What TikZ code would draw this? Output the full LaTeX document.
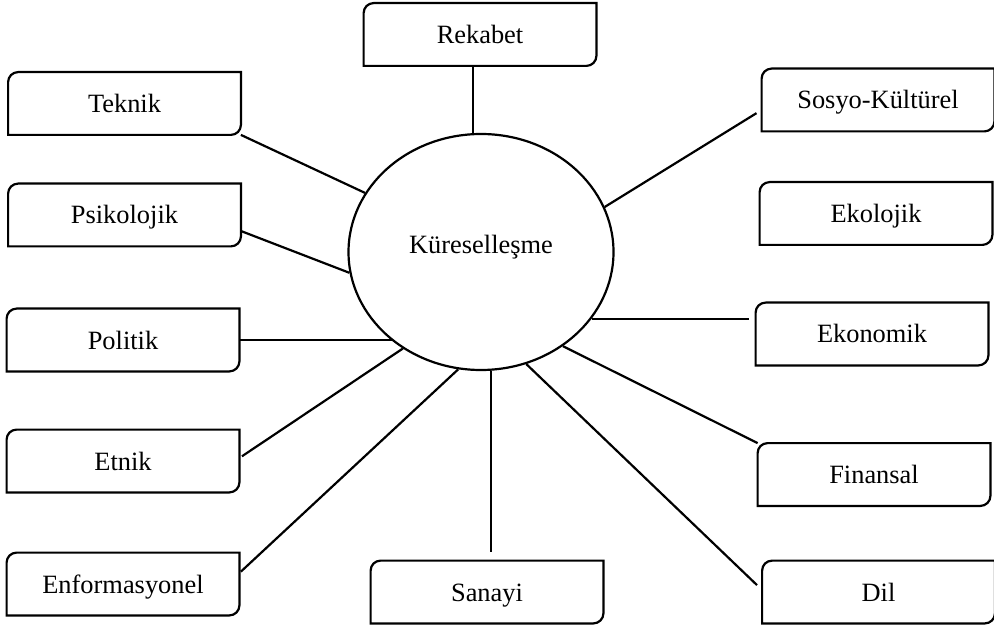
\documentclass[tikz,border=0pt]{standalone}
\usepackage{fontspec}
\setmainfont{Liberation Serif}
\usetikzlibrary{shapes.geometric}
\begin{document}
\begin{tikzpicture}[x=0.5pt,y=-0.5pt,
        kutu/.style={minimum width=116pt,minimum height=31pt,inner sep=0pt,text height=11pt,text depth=2pt,font=\fontsize{13.2}{15}\selectfont},
        merkez/.style={ellipse,draw,line width=1.1pt,minimum width=132.5pt,minimum height=118pt,inner sep=0pt,text height=7pt,text depth=5pt,font=\fontsize{13.2}{15}\selectfont},
        cizgi/.style={line width=1.1pt}]
        \useasboundingbox (0,0) rectangle (994,625);

        \node[merkez] (kure) at (481,252) {Küreselleşme};
        \node[kutu] (rekabet) at (480,34.5) {Rekabet};
        \node[kutu] (teknik) at (124.5,103.5) {Teknik};
        \node[kutu] (psikolojik) at (124.5,215) {Psikolojik};
        \node[kutu] (politik) at (123,340) {Politik};
        \node[kutu] (etnik) at (123,461) {Etnik};
        \node[kutu] (enformasyonel) at (123,584) {Enformasyonel};
        \node[kutu] (sanayi) at (487,592) {Sanayi};
        \node[kutu] (sosyo) at (878,100) {Sosyo-Kültürel};
        \node[kutu] (ekolojik) at (876,213.5) {Ekolojik};
        \node[kutu] (ekonomik) at (872,334) {Ekonomik};
        \node[kutu] (finansal) at (874,474.5) {Finansal};
        \node[kutu] (dil) at (878.5,592) {Dil};
        \coordinate (ekonomikuc) at ([yshift=7.5pt]ekonomik.west);

        % kutular: sol ust ve sag alt koseler yuvarlak
        \foreach \n in {rekabet,teknik,psikolojik,politik,etnik,enformasyonel,sanayi,sosyo,ekolojik,ekonomik,finansal,dil}
          \draw[cizgi] (\n.west) [rounded corners=5pt] -- (\n.north west) -- (\n.north) [sharp corners] -- (\n.north east) -- (\n.east)
            [rounded corners=5pt] -- (\n.south east) -- (\n.south) [sharp corners] -- (\n.south west) -- cycle;

        \draw[cizgi] (rekabet.south -| kure.94) -- (kure.94);
        \draw[cizgi] (teknik.south east) -- (kure.153);
        \draw[cizgi] ([yshift=-8pt]psikolojik.east) -- (kure.189);
        \draw[cizgi] (politik.east) -- (kure.225 |- politik.east);
        \draw[cizgi, shorten <=1.5pt] ([yshift=1.5pt]etnik.east) -- (kure.231.5);
        \draw[cizgi, shorten <=1pt] ([yshift=5.5pt]enformasyonel.east) -- (kure.259);
        \draw[cizgi, shorten >=4.5pt] (kure.275) -- (kure.275 |- sanayi.north);
        \draw[cizgi, shorten <=3.5pt] ([yshift=1pt]dil.west) -- (kure.292);
        \draw[cizgi] (finansal.north west) -- (kure.311.5);
        \draw[cizgi, shorten <=3.5pt] (ekonomikuc) -- (kure.329 |- ekonomikuc);
        \draw[cizgi, shorten <=3pt] ([yshift=-5pt]sosyo.west) -- (kure.20);
\end{tikzpicture}
\end{document}
